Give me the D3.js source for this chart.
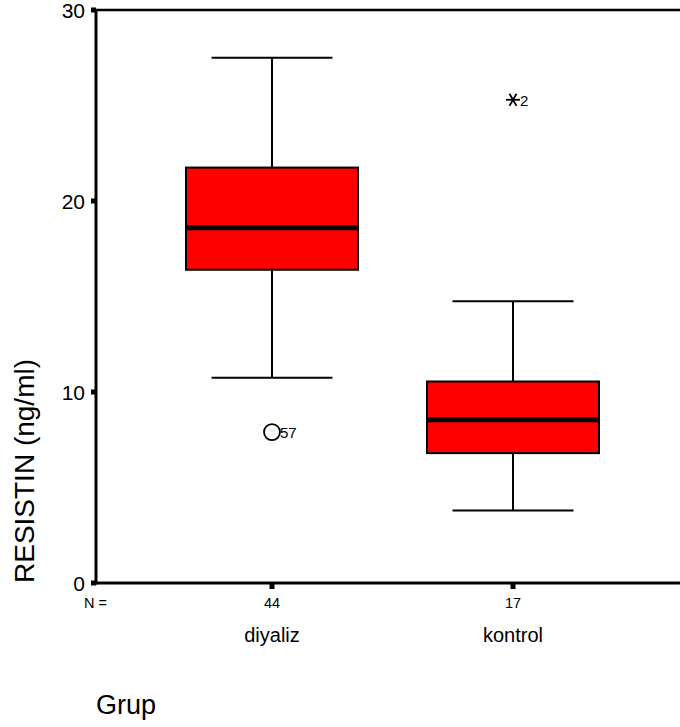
<!DOCTYPE html>
<html>
<head>
<meta charset="utf-8">
<script src="https://cdn.jsdelivr.net/npm/d3@7"></script>
<style>
  body { margin: 0; background: #fff; }
  text { font-family: Arial, "Liberation Sans", sans-serif; }
</style>
</head>
<body>
<div id="chart"></div>
<script>
// groups and counts
var groups = ["diyaliz", "kontrol"];
var counts = [44, 17];
// box stats
var lowWhisker = [10.75, 3.8];
var q1 = [16.4, 6.8];
var median = [18.6, 8.55];
var q3 = [21.75, 10.55];
var highWhisker = [27.5, 14.75];
// outliers: [group index, value, case label, kind]
var outliers = [
    [0, 7.9, "57", "circle"],
    [1, 25.3, "2", "star"]
];
var yTicks = [0, 10, 20, 30];

function init() {
    var w = 680;
    var h = 727;

    var svg = d3.select("#chart")
        .append("svg")
        .attr("width", w)
        .attr("height", h);

    var y = d3.scaleLinear()
        .domain([0, 30])
        .range([583, 10]);

    var x = d3.scalePoint()
        .domain(groups)
        .range([272, 513]);

    var boxW = 172;
    var capW = 121;

    // frame (right side runs off the picture)
    svg.append("line")
        .attr("x1", 96).attr("x2", 700)
        .attr("y1", y(30)).attr("y2", y(30))
        .attr("stroke", "black").attr("stroke-width", 2.5);
    svg.append("line")
        .attr("x1", 96).attr("x2", 700)
        .attr("y1", y(0)).attr("y2", y(0))
        .attr("stroke", "black").attr("stroke-width", 3);
    svg.append("line")
        .attr("x1", 96).attr("x2", 96)
        .attr("y1", y(0) + 1.5).attr("y2", y(30) - 1)
        .attr("stroke", "black").attr("stroke-width", 3);

    // y ticks
    svg.selectAll(".ytick")
        .data(yTicks)
        .enter()
        .append("rect")
        .attr("class", "ytick")
        .attr("x", 91)
        .attr("y", function (d) { return y(d) - 2.5; })
        .attr("width", 5)
        .attr("height", 5)
        .attr("fill", "black");

    svg.selectAll(".ylab")
        .data(yTicks)
        .enter()
        .append("text")
        .attr("class", "ylab")
        .text(function (d) { return d; })
        .attr("x", 85)
        .attr("y", function (d) { return y(d) + 8; })
        .attr("text-anchor", "end")
        .attr("font-size", "21px");

    // x ticks
    svg.selectAll(".xtick")
        .data(groups)
        .enter()
        .append("rect")
        .attr("class", "xtick")
        .attr("x", function (d) { return x(d) - 2.5; })
        .attr("y", y(0))
        .attr("width", 5)
        .attr("height", 6)
        .attr("fill", "black");

    // whiskers
    groups.forEach(function (g, i) {
        var cx = x(g);
        svg.append("line")
            .attr("x1", cx).attr("x2", cx)
            .attr("y1", y(highWhisker[i])).attr("y2", y(q3[i]))
            .attr("stroke", "black").attr("stroke-width", 2);
        svg.append("line")
            .attr("x1", cx).attr("x2", cx)
            .attr("y1", y(q1[i])).attr("y2", y(lowWhisker[i]))
            .attr("stroke", "black").attr("stroke-width", 2);
        svg.append("line")
            .attr("x1", cx - capW / 2).attr("x2", cx + capW / 2)
            .attr("y1", y(highWhisker[i])).attr("y2", y(highWhisker[i]))
            .attr("stroke", "black").attr("stroke-width", 2);
        svg.append("line")
            .attr("x1", cx - capW / 2).attr("x2", cx + capW / 2)
            .attr("y1", y(lowWhisker[i])).attr("y2", y(lowWhisker[i]))
            .attr("stroke", "black").attr("stroke-width", 2);
    });

    // boxes
    svg.selectAll(".box")
        .data(groups)
        .enter()
        .append("rect")
        .attr("class", "box")
        .attr("x", function (d) { return x(d) - boxW / 2; })
        .attr("y", function (d, i) { return y(q3[i]); })
        .attr("width", boxW)
        .attr("height", function (d, i) { return y(q1[i]) - y(q3[i]); })
        .attr("fill", "#ff0000")
        .attr("stroke", "black")
        .attr("stroke-width", 2);

    svg.selectAll(".med")
        .data(groups)
        .enter()
        .append("line")
        .attr("class", "med")
        .attr("x1", function (d) { return x(d) - boxW / 2; })
        .attr("x2", function (d) { return x(d) + boxW / 2; })
        .attr("y1", function (d, i) { return y(median[i]); })
        .attr("y2", function (d, i) { return y(median[i]); })
        .attr("stroke", "black")
        .attr("stroke-width", 5);

    // outliers
    outliers.forEach(function (o) {
        var cx = x(groups[o[0]]);
        var cy = y(o[1]);
        if (o[3] === "circle") {
            svg.append("circle")
                .attr("cx", cx).attr("cy", cy).attr("r", 8)
                .attr("fill", "none").attr("stroke", "black").attr("stroke-width", 1.8);
        } else {
            // six-armed star with a horizontal bar
            [0, 60, 120].forEach(function (a) {
                var r = 7;
                var dx = r * Math.cos(a * Math.PI / 180);
                var dy = r * Math.sin(a * Math.PI / 180);
                svg.append("line")
                    .attr("x1", cx - dx).attr("x2", cx + dx)
                    .attr("y1", cy - dy).attr("y2", cy + dy)
                    .attr("stroke", "black").attr("stroke-width", 1.8);
            });
        }
        svg.append("text")
            .text(o[2])
            .attr("x", cx + (o[3] === "circle" ? 8 : 7))
            .attr("y", cy + 6)
            .attr("font-size", "15px");
    });

    // N = row
    svg.append("text")
        .text("N =")
        .attr("x", 84)
        .attr("y", 608)
        .attr("font-size", "14.5px");

    svg.selectAll(".nlab")
        .data(groups)
        .enter()
        .append("text")
        .attr("class", "nlab")
        .text(function (d, i) { return counts[i]; })
        .attr("x", function (d) { return x(d); })
        .attr("y", 608)
        .attr("text-anchor", "middle")
        .attr("font-size", "14.5px");

    svg.selectAll(".glab")
        .data(groups)
        .enter()
        .append("text")
        .attr("class", "glab")
        .text(function (d) { return d; })
        .attr("x", function (d) { return x(d); })
        .attr("y", 642)
        .attr("text-anchor", "middle")
        .attr("font-size", "20px");

    svg.append("text")
        .text("Grup")
        .attr("x", 96)
        .attr("y", 714)
        .attr("font-size", "27px");

    svg.append("text")
        .text("RESISTIN (ng/ml)")
        .attr("transform", "translate(34,471) rotate(-90)")
        .attr("text-anchor", "middle")
        .attr("font-size", "28px");
}

window.onload = init;
</script>
</body>
</html>
